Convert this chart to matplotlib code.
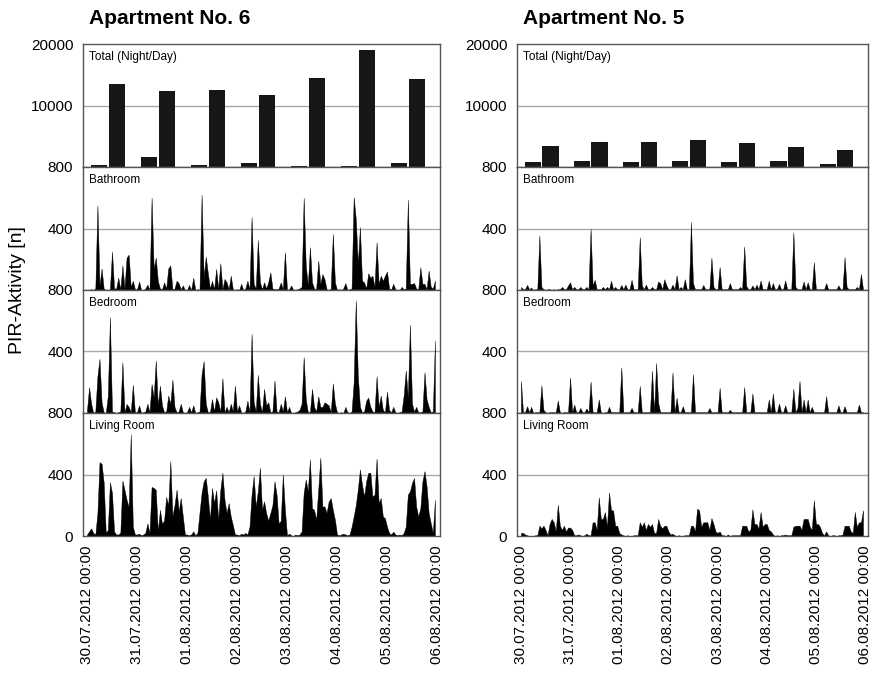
import matplotlib.pyplot as plt
import numpy as np

plt.rcParams['font.family'] = ['Liberation Sans', 'DejaVu Sans']

dates = ['30.07.2012 00:00', '31.07.2012 00:00', '01.08.2012 00:00', '02.08.2012 00:00',
         '03.08.2012 00:00', '04.08.2012 00:00', '05.08.2012 00:00', '06.08.2012 00:00']
rooms = ['Bathroom', 'Bedroom', 'Living Room']

# Tagessummen (Nacht / Tag)
night6 = [326, 1630, 326, 652, 163, 163, 652]
day6 = [13480, 12340, 12500, 11690, 14460, 19020, 14290]
night5 = [815, 978, 815, 978, 815, 978, 489]
day5 = [3420, 4080, 4080, 4400, 3910, 3260, 2770]

# Stundenwerte, eine Zeile pro Tag
bath6 = [0, 0, 5, 0, 10, 550, 30, 140, 10, 0, 0, 5, 250, 10, 10, 80, 5, 160, 10, 210, 230, 20, 60, 5] + \
        [5, 55, 0, 0, 10, 35, 0, 600, 140, 210, 60, 10, 5, 50, 10, 140, 160, 5, 10, 60, 45, 5, 30, 0] + \
        [0, 33, 0, 80, 0, 5, 0, 620, 85, 217, 110, 10, 60, 5, 137, 10, 174, 5, 72, 50, 5, 93, 5, 0] + \
        [5, 0, 40, 0, 10, 60, 5, 474, 40, 10, 326, 50, 5, 50, 10, 50, 115, 10, 5, 5, 10, 50, 5, 246] + \
        [0, 5, 30, 0, 0, 5, 10, 20, 600, 159, 30, 278, 50, 10, 5, 191, 40, 104, 70, 5, 0, 10, 365, 50] + \
        [0, 5, 0, 10, 45, 0, 5, 10, 604, 463, 170, 409, 60, 50, 10, 109, 80, 93, 20, 311, 40, 93, 60, 93] + \
        [120, 10, 5, 40, 5, 0, 0, 20, 5, 10, 587, 40, 40, 45, 10, 5, 148, 40, 40, 5, 126, 20, 10, 60]
bed6 = [20, 167, 60, 0, 10, 239, 352, 70, 5, 0, 113, 624, 10, 5, 0, 5, 10, 330, 5, 59, 40, 5, 183, 5] + \
       [5, 50, 0, 5, 10, 60, 5, 189, 100, 341, 50, 178, 50, 5, 10, 113, 60, 217, 40, 5, 10, 60, 5, 0] + \
       [5, 40, 5, 50, 0, 5, 10, 254, 337, 60, 5, 5, 91, 10, 102, 70, 10, 226, 5, 40, 5, 60, 10, 178] + \
       [10, 50, 5, 0, 10, 80, 5, 515, 70, 10, 248, 60, 5, 157, 50, 70, 5, 10, 211, 10, 5, 60, 10, 109] + \
       [5, 40, 0, 0, 5, 10, 20, 60, 363, 90, 5, 5, 157, 40, 10, 109, 40, 40, 70, 60, 50, 5, 193, 60] + \
       [5, 0, 5, 0, 40, 5, 0, 10, 200, 733, 240, 40, 5, 10, 80, 100, 40, 10, 5, 239, 40, 113, 20, 5] + \
       [139, 20, 5, 40, 5, 0, 5, 10, 113, 276, 100, 574, 60, 10, 40, 5, 5, 10, 265, 90, 40, 5, 10, 472]
liv6 = [10, 30, 50, 20, 10, 150, 480, 470, 350, 20, 40, 350, 280, 30, 10, 10, 20, 360, 300, 236, 190, 662, 60, 10] + \
       [10, 15, 5, 10, 20, 83, 20, 319, 313, 300, 30, 170, 80, 100, 254, 200, 487, 130, 200, 302, 160, 247, 127, 10] + \
       [10, 5, 10, 30, 5, 20, 150, 280, 356, 378, 258, 105, 313, 214, 297, 105, 300, 411, 236, 150, 214, 127, 72, 10] + \
       [10, 5, 15, 10, 20, 10, 60, 269, 389, 192, 291, 444, 170, 225, 149, 100, 149, 200, 356, 269, 80, 100, 400, 170] + \
       [5, 15, 5, 0, 10, 5, 10, 30, 280, 367, 291, 498, 181, 170, 105, 302, 509, 192, 192, 150, 225, 247, 170, 105] + \
       [10, 5, 10, 15, 10, 5, 10, 60, 127, 200, 302, 433, 334, 258, 356, 411, 411, 258, 269, 503, 214, 247, 127, 116] + \
       [61, 20, 10, 28, 10, 5, 10, 5, 20, 61, 269, 291, 345, 378, 192, 127, 181, 356, 422, 324, 149, 83, 20, 236]

bath5 = [20, 5, 5, 33, 5, 15, 0, 5, 5, 354, 20, 5, 0, 5, 5, 0, 5, 0, 5, 5, 20, 5, 5, 30] + \
        [50, 5, 20, 5, 5, 20, 5, 5, 20, 5, 398, 30, 66, 5, 5, 5, 20, 5, 20, 5, 60, 5, 20, 5] + \
        [5, 33, 5, 35, 5, 5, 66, 5, 5, 5, 343, 30, 5, 35, 5, 5, 20, 5, 5, 55, 44, 5, 70, 30] + \
        [5, 5, 35, 5, 95, 5, 20, 5, 70, 5, 5, 442, 45, 5, 5, 5, 5, 33, 5, 5, 5, 210, 20, 5] + \
        [5, 150, 5, 5, 5, 5, 45, 5, 5, 5, 5, 20, 5, 283, 25, 5, 5, 30, 5, 35, 5, 62, 5, 5] + \
        [5, 60, 5, 45, 5, 5, 40, 5, 5, 62, 5, 5, 5, 376, 20, 5, 5, 5, 55, 5, 50, 5, 5, 181] + \
        [5, 5, 5, 5, 5, 45, 5, 5, 5, 5, 5, 30, 5, 5, 214, 20, 5, 5, 5, 5, 20, 5, 104, 5]
bed5 = [209, 5, 5, 44, 5, 40, 0, 5, 5, 5, 180, 20, 5, 0, 5, 5, 5, 5, 81, 5, 0, 5, 5, 5] + \
       [231, 5, 55, 5, 5, 33, 5, 5, 30, 5, 204, 5, 5, 5, 88, 5, 0, 5, 5, 40, 5, 5, 5, 5] + \
       [5, 297, 5, 5, 5, 5, 33, 5, 5, 5, 176, 5, 5, 5, 5, 5, 275, 5, 325, 66, 5, 5, 5, 5] + \
       [5, 5, 264, 5, 99, 5, 5, 44, 5, 5, 5, 5, 253, 5, 5, 5, 5, 5, 5, 5, 33, 5, 5, 5] + \
       [5, 163, 5, 5, 5, 5, 20, 5, 5, 5, 5, 5, 5, 169, 5, 5, 5, 127, 5, 5, 5, 5, 5, 5] + \
       [5, 88, 5, 127, 5, 5, 62, 5, 5, 50, 5, 5, 5, 158, 5, 33, 209, 5, 88, 5, 88, 5, 40, 5] + \
       [5, 5, 5, 5, 5, 110, 5, 5, 5, 5, 5, 50, 5, 5, 44, 5, 5, 5, 5, 5, 5, 55, 5, 5]
liv5 = [20, 20, 10, 5, 0, 0, 0, 5, 5, 67, 50, 67, 40, 5, 80, 111, 90, 30, 204, 67, 40, 67, 30, 55] + \
       [55, 40, 5, 5, 10, 5, 0, 5, 15, 5, 5, 89, 89, 40, 251, 111, 111, 156, 60, 284, 167, 167, 67, 67] + \
       [20, 10, 5, 0, 5, 0, 0, 5, 5, 5, 89, 60, 89, 40, 78, 60, 78, 20, 20, 111, 67, 50, 67, 67] + \
       [30, 10, 15, 5, 0, 5, 0, 0, 5, 5, 5, 67, 67, 30, 178, 167, 60, 89, 89, 89, 40, 116, 78, 30] + \
       [20, 30, 5, 5, 0, 10, 0, 5, 5, 5, 5, 5, 67, 67, 67, 30, 40, 173, 78, 78, 50, 156, 60, 78] + \
       [78, 40, 30, 10, 0, 5, 0, 5, 5, 10, 5, 5, 5, 60, 67, 67, 67, 40, 111, 111, 111, 60, 40, 233] + \
       [78, 78, 60, 20, 5, 30, 5, 0, 5, 5, 0, 5, 5, 10, 67, 67, 67, 30, 20, 156, 60, 89, 89, 167]

apartments = [
    ('Apartment No. 6', night6, day6, [bath6, bed6, liv6]),
    ('Apartment No. 5', night5, day5, [bath5, bed5, liv5]),
]

W, H = 884, 679
fig = plt.figure(figsize=(W / 100, H / 100), dpi=100)

col_left = [83, 517]
col_width = [357, 351]
top = 44
ph = 123
spine_col = '#555555'
grid_col = '#aaaaaa'

hours = np.arange(168) / 24.0
days = np.arange(7)

for c, (title, night, day, series) in enumerate(apartments):
    axes = []
    for r in range(4):
        rect = [col_left[c] / W, 1 - (top + (r + 1) * ph) / H, col_width[c] / W, ph / H]
        ax = fig.add_axes(rect)
        ax.set_xlim(-0.08, 7.06)
        ax.tick_params(length=0, labelsize=11, pad=7)
        for s in ax.spines.values():
            s.set_color(spine_col)
            s.set_linewidth(1.0)
        ax.set_xticks(np.arange(8))
        axes.append(ax)

    # Gesamtaktivität Nacht/Tag
    ax = axes[0]
    ax.axhline(10000, color=grid_col, lw=1, zorder=0)
    ax.bar(days + 0.24, night, width=0.33, color='#161616', zorder=2)
    ax.bar(days + 0.6, day, width=0.33, color='#161616', zorder=2)
    ax.set_ylim(0, 20000)
    ax.set_yticks([10000, 20000])
    ax.set_xticklabels([])
    ax.annotate('Total (Night/Day)', xy=(0, 1), xycoords='axes fraction',
                xytext=(4.5, -5), textcoords='offset points', va='top', fontsize=8.5)

    for r, (room, vals) in enumerate(zip(rooms, series)):
        ax = axes[r + 1]
        ax.axhline(400, color=grid_col, lw=1, zorder=0)
        ax.fill_between(hours, 0, vals, color='black', lw=0.3, zorder=2)
        ax.set_ylim(0, 800)
        if r == 2:
            ax.set_yticks([0, 400, 800])
            ax.set_xticklabels(dates, rotation=90)
        else:
            ax.set_yticks([400, 800])
            ax.set_xticklabels([])
        ax.annotate(room, xy=(0, 1), xycoords='axes fraction',
                    xytext=(4.5, -5), textcoords='offset points', va='top', fontsize=8.5)

    fig.text((col_left[c] + 6) / W, 1 - 18 / H, title, fontsize=15,
             fontweight='bold', va='center', ha='left')

fig.text(18 / W, 1 - 290 / H, 'PIR-Aktivity [n]', rotation=90, fontsize=14,
         va='center', ha='center')

fig.savefig('out.png', dpi=100)
